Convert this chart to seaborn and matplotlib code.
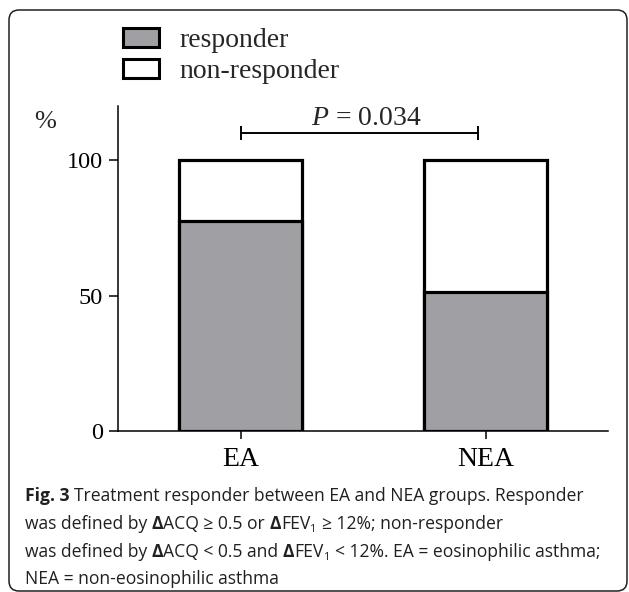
import numpy as np
import pandas as pd
import seaborn as sns
import matplotlib
matplotlib.use("Agg")
import matplotlib.pyplot as plt
from matplotlib.patches import Patch, FancyBboxPatch
from matplotlib.transforms import IdentityTransform

# ---------------- data ----------------
categories = ["EA", "NEA"]
responder = [77.5, 51.4]
non_responder = [22.5, 48.6]
series_labels = ["responder", "non-responder"]
y_ticks = [0, 50, 100]
p_label = "$P$ = 0.034"
bracket_ends = [0, 0.97]
bracket_level = 110
caption_lines = [
    [("Fig. 3", "b"), (" Treatment responder between EA and NEA groups. Responder", "n")],
    [("was defined by", "n"), (" Δ", "d"), ("ACQ ≥ 0.5 or", "n"), (" Δ", "d"), ("FEV", "n"),
     ("1", "sub"), (" ≥ 12%; non-responder", "n")],
    [("was defined by", "n"), (" Δ", "d"), ("ACQ < 0.5 and", "n"), (" Δ", "d"), ("FEV", "n"),
     ("1", "sub"), (" < 12%. EA = eosinophilic asthma;", "n")],
    [("NEA = non-eosinophilic asthma", "n")],
]

# ---------------- style ----------------
sns.set_style("ticks")
plt.rcParams["font.family"] = ["Liberation Serif", "DejaVu Serif"]
plt.rcParams["mathtext.fontset"] = "custom"
plt.rcParams["mathtext.rm"] = "Liberation Serif"
plt.rcParams["mathtext.it"] = "Liberation Serif:italic"

W, H = 629, 592
GRAY = "#a09fa4"
FS_Y = 17.5
FS = 20

fig = plt.figure(figsize=(W / 100, H / 100), dpi=100)
fig.patch.set_facecolor("white")

# outer rounded frame
frame = FancyBboxPatch((9, 1), 618, 581, boxstyle="round,pad=0,rounding_size=10",
                       transform=IdentityTransform(), facecolor="none",
                       edgecolor="#231f20", linewidth=1.1)
fig.add_artist(frame)

ax = fig.add_axes([118 / W, 1 - 431 / H, (608 - 118) / W, (431 - 106) / H])
ax.set_facecolor("none")

df = pd.DataFrame({"group": categories,
                   "total": np.add(responder, non_responder),
                   "responder": responder})

sns.barplot(data=df, x="group", y="total", color="white", edgecolor="black",
            linewidth=2.3, width=0.5, saturation=1, errorbar=None, ax=ax)
sns.barplot(data=df, x="group", y="responder", color=GRAY, edgecolor="black",
            linewidth=2.3, width=0.5, saturation=1, errorbar=None, ax=ax)

ax.set_xlim(-0.5, 1.5)
ax.set_ylim(0, 120)
ax.set_yticks(y_ticks)
ax.set_xlabel("")
ax.set_ylabel("")
for s in ["top", "right"]:
    ax.spines[s].set_visible(False)
for s in ["left", "bottom"]:
    ax.spines[s].set_linewidth(1.1)
    ax.spines[s].set_color("black")
ax.tick_params(axis="y", labelsize=FS_Y, width=1.1, length=6.5, pad=4.3, colors="black")
ax.tick_params(axis="x", labelsize=FS, width=1.1, length=6, pad=5.5, colors="black")

# significance bracket
ax.plot(bracket_ends, [bracket_level, bracket_level], color="black", lw=1.4,
        solid_capstyle="butt")
ax.vlines(bracket_ends, bracket_level - 2.6, bracket_level + 2.6, color="black", lw=1.4)
ax.text(np.mean(bracket_ends) + 0.03, bracket_level + 2.9, p_label, ha="center",
        va="baseline", fontsize=FS)

fig.text(45.5 / W, 1 - 122 / H, "%", ha="center", va="center", fontsize=19)

# legend
handles = [Patch(facecolor=GRAY, edgecolor="black", linewidth=2.2, label=series_labels[0]),
           Patch(facecolor="white", edgecolor="black", linewidth=2.2, label=series_labels[1])]
fig.legend(handles=handles, loc="upper left", bbox_to_anchor=(123 / W, 1 - 28 / H),
           frameon=False, fontsize=FS, handlelength=1.3, handleheight=0.65,
           handletextpad=0.72, labelspacing=0.23, borderpad=0, borderaxespad=0)

# caption
renderer = fig.canvas.get_renderer()
CAP_FAM = ["Open Sans", "DejaVu Sans"]
CAP_COLOR = "#231f20"


def draw_line(pieces, x0, y_img, size):
    arts = []
    x = x0
    y = H - y_img
    probe1 = fig.text(0, 0, "x x", fontsize=size, family=CAP_FAM, transform=IdentityTransform())
    probe2 = fig.text(0, 0, "xx", fontsize=size, family=CAP_FAM, transform=IdentityTransform())
    space = (probe1.get_window_extent(renderer).width -
             probe2.get_window_extent(renderer).width)
    probe1.remove()
    probe2.remove()
    for text, style in pieces:
        if text.startswith(" "):
            x += space
            text = text.lstrip(" ")
        kw = dict(fontsize=size, family=CAP_FAM, color=CAP_COLOR)
        yy = y
        if style in ("b", "d"):
            kw["fontweight"] = "bold"
        if style == "sub":
            kw["fontsize"] = size * 0.62
            yy = y - size * 100 / 72 * 0.18
        t = fig.text(x, yy, text, transform=IdentityTransform(), ha="left",
                     va="baseline", **kw)
        x += t.get_window_extent(renderer).width + (0.5 if style == "sub" else 0)
        arts.append(t)
    return arts, x - x0


trial = 12
arts, width = draw_line(caption_lines[0], 25, 501, trial)
for a in arts:
    a.remove()
cap_size = trial * 557 / width
baselines = [501, 529, 557, 584]
for pieces, yb in zip(caption_lines, baselines):
    draw_line(pieces, 25, yb, cap_size)

fig.savefig("out.png", dpi=100)
